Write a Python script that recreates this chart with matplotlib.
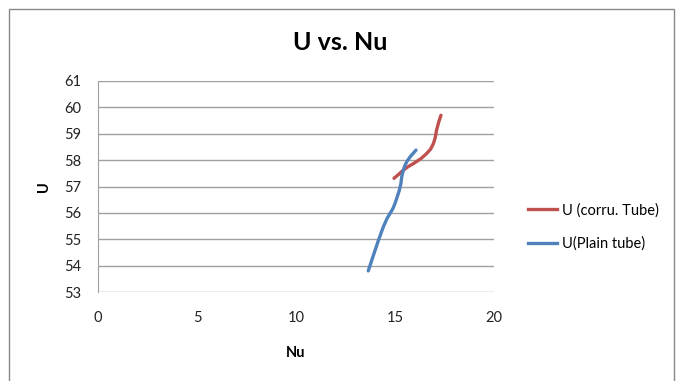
import matplotlib
matplotlib.use("Agg")
import matplotlib.pyplot as plt
from matplotlib.patches import Rectangle
from matplotlib.lines import Line2D

nu_corru = [14.95, 15.2, 15.42, 15.68, 15.93, 16.3, 16.6, 16.8, 16.94, 17.03, 17.1, 17.2, 17.32]
u_corru = [57.31, 57.47, 57.62, 57.76, 57.87, 58.05, 58.25, 58.42, 58.63, 58.85, 59.14, 59.42, 59.7]
nu_plain = [13.65, 13.9, 14.15, 14.41, 14.6, 14.75, 14.9, 15.0, 15.1, 15.22, 15.3, 15.34, 15.42, 15.5, 15.62, 15.76, 15.92, 16.06]
u_plain = [53.8, 54.37, 54.93, 55.47, 55.79, 55.98, 56.17, 56.36, 56.58, 56.86, 57.12, 57.37, 57.62, 57.8, 57.97, 58.12, 58.26, 58.38]
x_ticks = [0, 5, 10, 15, 20]
y_ticks = [53, 54, 55, 56, 57, 58, 59, 60, 61]

plt.rcParams['font.family'] = ['Lato', 'DejaVu Sans']

fig = plt.figure(figsize=(6.81, 3.81), dpi=100)
W, H = 681, 381
fig.patches.append(Rectangle((8.5 / W, -0.1), (674 - 8.5) / W, 1.1 - 8.5 / H,
                             transform=fig.transFigure, fill=False,
                             edgecolor='#888888', linewidth=1.0))

ax = fig.add_axes([98 / W, 1 - 292 / H, (494 - 98) / W, (292 - 81) / H])
red = '#C0504D'
blue = '#4F81BD'
ax.plot(nu_corru, u_corru, color=red, linewidth=2.4, solid_capstyle='round', solid_joinstyle='round')
ax.plot(nu_plain, u_plain, color=blue, linewidth=2.4, solid_capstyle='round', solid_joinstyle='round')

ax.set_xlim(0, 20)
ax.set_ylim(53, 61)
ax.set_xticks(x_ticks)
ax.set_yticks(y_ticks)
ax.yaxis.grid(True, color='#A0A0A0', linewidth=1.0)
ax.set_axisbelow(True)
for s in ['top', 'right', 'bottom']:
    ax.spines[s].set_visible(False)
ax.spines['left'].set_color('#A0A0A0')
ax.tick_params(axis='both', length=0, labelsize=10.5, colors='#222222')
ax.tick_params(axis='x', pad=14)
ax.tick_params(axis='y', pad=12)

fig.text(340 / W, 1 - 42 / H, 'U vs. Nu', ha='center', va='center',
         fontsize=18, fontweight='bold')
fig.text(296 / W, 1 - 353 / H, 'Nu', ha='center', va='center',
         fontsize=10.5, fontweight='bold')
fig.text(44 / W, 1 - 187 / H, 'U', ha='center', va='center',
         fontsize=10.5, fontweight='bold', rotation=90)

handles = [Line2D([], [], color=red, linewidth=2.4),
           Line2D([], [], color=blue, linewidth=2.4)]
leg = fig.legend(handles, ['U (corru. Tube)', 'U(Plain tube)'],
                 loc='upper left', bbox_to_anchor=(515 / W, 1 - 190 / H),
                 frameon=False, fontsize=10.5, handlelength=2.0,
                 handletextpad=0.3, labelspacing=1.3)

fig.savefig('out.png', dpi=100)
